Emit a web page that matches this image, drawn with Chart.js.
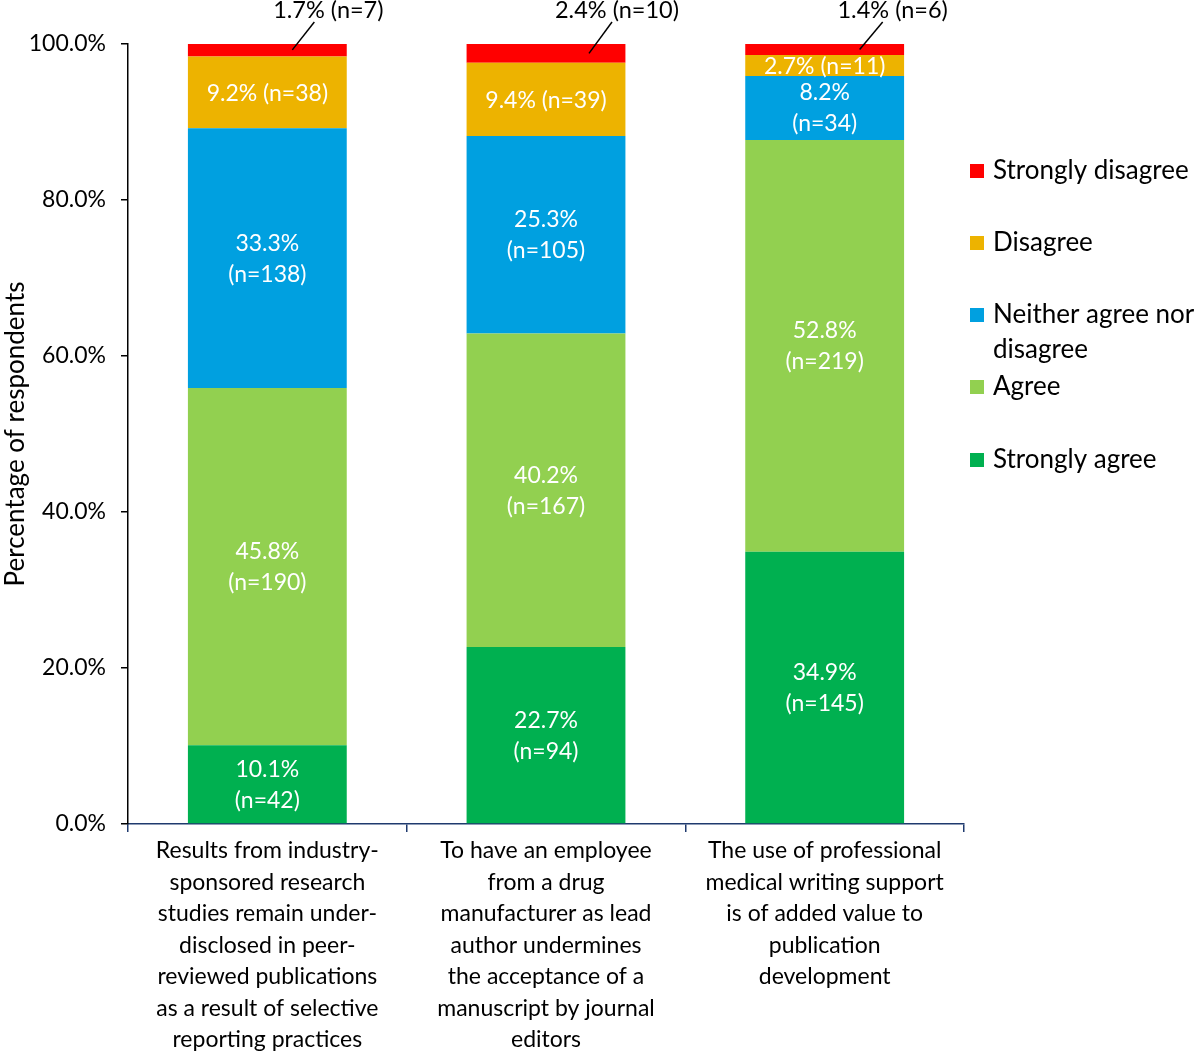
<!DOCTYPE html>
<html>
<head>
<meta charset="utf-8">
<script src="https://cdn.jsdelivr.net/npm/chart.js@4.4.0/dist/chart.umd.min.js"></script>
<style>
  html, body { margin: 0; padding: 0; background: #fff; }
  #wrap { width: 1200px; height: 1055px; position: relative; }
</style>
</head>
<body>
<div id="wrap"><canvas id="myChart" width="1200" height="1055"></canvas></div>
<script>
// categories (multi-line labels as in the original)
var categories = [
  ['Results from industry-', 'sponsored research', 'studies remain under-', 'disclosed in peer-', 'reviewed publications', 'as a result of selective', 'reporting practices'],
  ['To have an employee', 'from a drug', 'manufacturer as lead', 'author undermines', 'the acceptance of a', 'manuscript by journal', 'editors'],
  ['The use of professional', 'medical writing support', 'is of added value to', 'publication', 'development']
];

// percentages per response
var stronglyAgree    = [10.1, 22.7, 34.9];
var agree            = [45.8, 40.2, 52.8];
var neither          = [33.3, 25.3, 8.2];
var disagree         = [9.2, 9.4, 2.7];
var stronglyDisagree = [1.7, 2.4, 1.4];

// respondent counts
var nStronglyAgree    = [42, 94, 145];
var nAgree            = [190, 167, 219];
var nNeither          = [138, 105, 34];
var nDisagree         = [38, 39, 11];
var nStronglyDisagree = [7, 10, 6];

var yTicks = [0, 20, 40, 60, 80, 100];

var FONT = 'Lato, "Open Sans", sans-serif';

var dataSource = {
  labels: categories,
  datasets: [
    { label: 'Strongly agree', data: stronglyAgree, counts: nStronglyAgree, mode: 'two', backgroundColor: '#00b050' },
    { label: 'Agree', data: agree, counts: nAgree, mode: 'two', backgroundColor: '#92d050' },
    { label: 'Neither agree nor disagree', legendLines: ['Neither agree nor', 'disagree'], data: neither, counts: nNeither, mode: 'two', backgroundColor: '#00a0e0' },
    { label: 'Disagree', data: disagree, counts: nDisagree, mode: 'one', backgroundColor: '#edb300' },
    { label: 'Strongly disagree', data: stronglyDisagree, counts: nStronglyDisagree, mode: 'out', backgroundColor: '#ff0000' }
  ]
};

// labels inside / above the segments
var segmentLabels = {
  id: 'segmentLabels',
  afterDatasetsDraw: function (chart) {
    var ctx = chart.ctx;
    ctx.save();
    ctx.textAlign = 'center';
    ctx.textBaseline = 'middle';
    // leader line offsets for the outside labels
    var lead = [[25, 47, 61], [43, 66, 71], [35, 58, 68]];
    chart.data.datasets.forEach(function (ds, di) {
      var meta = chart.getDatasetMeta(di);
      meta.data.forEach(function (bar, i) {
        var pct = ds.data[i].toFixed(1) + '%';
        var n = '(n=' + ds.counts[i] + ')';
        var mid = (bar.y + bar.base) / 2;
        if (ds.mode === 'out') {
          var o = lead[i];
          ctx.strokeStyle = '#000';
          ctx.lineWidth = 1.5;
          ctx.beginPath();
          ctx.moveTo(bar.x + o[0], mid);
          ctx.lineTo(bar.x + o[1], 22);
          ctx.stroke();
          ctx.font = '23.5px ' + FONT;
          ctx.fillStyle = '#000';
          ctx.fillText(pct + ' ' + n, bar.x + o[2], 10);
        } else if (ds.mode === 'one') {
          ctx.font = '23px ' + FONT;
          ctx.fillStyle = '#fff';
          ctx.fillText(pct + ' ' + n, bar.x, mid + 1);
        } else {
          ctx.font = '23px ' + FONT;
          ctx.fillStyle = '#fff';
          ctx.fillText(pct, bar.x, mid - 15);
          ctx.fillText(n, bar.x, mid + 16);
        }
      });
    });
    ctx.restore();
  }
};

// legend on the right, top item is the top of the stack
var sideLegend = {
  id: 'sideLegend',
  afterDraw: function (chart) {
    var ctx = chart.ctx;
    ctx.save();
    ctx.font = '26px ' + FONT;
    ctx.textAlign = 'left';
    ctx.textBaseline = 'middle';
    var rows = [171, 243, 315, 387, 460];
    var ds = chart.data.datasets.slice().reverse();
    ds.forEach(function (d, k) {
      var y = rows[k];
      ctx.fillStyle = d.backgroundColor;
      ctx.fillRect(970, y - 7, 14, 14);
      ctx.fillStyle = '#000';
      var lines = d.legendLines || [d.label];
      lines.forEach(function (t, j) {
        ctx.fillText(t, 993, y + j * 35);
      });
    });
    ctx.restore();
  }
};

function createChart() {
  var ctx = document.getElementById('myChart').getContext('2d');
  new Chart(ctx, {
    type: 'bar',
    data: dataSource,
    plugins: [segmentLabels, sideLegend],
    options: {
      responsive: false,
      animation: false,
      layout: { padding: { left: 0, top: 44, right: 236, bottom: 0 } },
      datasets: { bar: { categoryPercentage: 1, barPercentage: 0.57 } },
      plugins: { legend: { display: false }, tooltip: { enabled: false } },
      scales: {
        x: {
          stacked: true,
          offset: true,
          grid: { display: true, offset: true, drawOnChartArea: false, drawTicks: true, tickLength: 8, color: '#1f3a6e', lineWidth: 1.5 },
          border: { display: true, color: '#1f3a6e', width: 1.5 },
          ticks: { color: '#000', font: { family: FONT, size: 23, lineHeight: 1.37 }, maxRotation: 0, autoSkip: false, padding: 3 },
          afterFit: function (s) { s.height = 231; }
        },
        y: {
          stacked: true,
          min: 0,
          max: 100,
          afterBuildTicks: function (s) { s.ticks = yTicks.map(function (v) { return { value: v }; }); },
          grid: { display: true, drawOnChartArea: false, drawTicks: true, tickLength: 7, color: '#000', lineWidth: 1.5 },
          border: { display: true, color: '#000', width: 1.5 },
          ticks: { color: '#000', font: { family: FONT, size: 23 }, padding: 15, callback: function (v) { return v.toFixed(1) + '%'; } },
          title: { display: true, text: 'Percentage of respondents', color: '#000', font: { family: FONT, size: 26 }, padding: 0 },
          afterFit: function (s) { s.width = 128; }
        }
      }
    }
  });
}
createChart();
</script>
</body>
</html>
